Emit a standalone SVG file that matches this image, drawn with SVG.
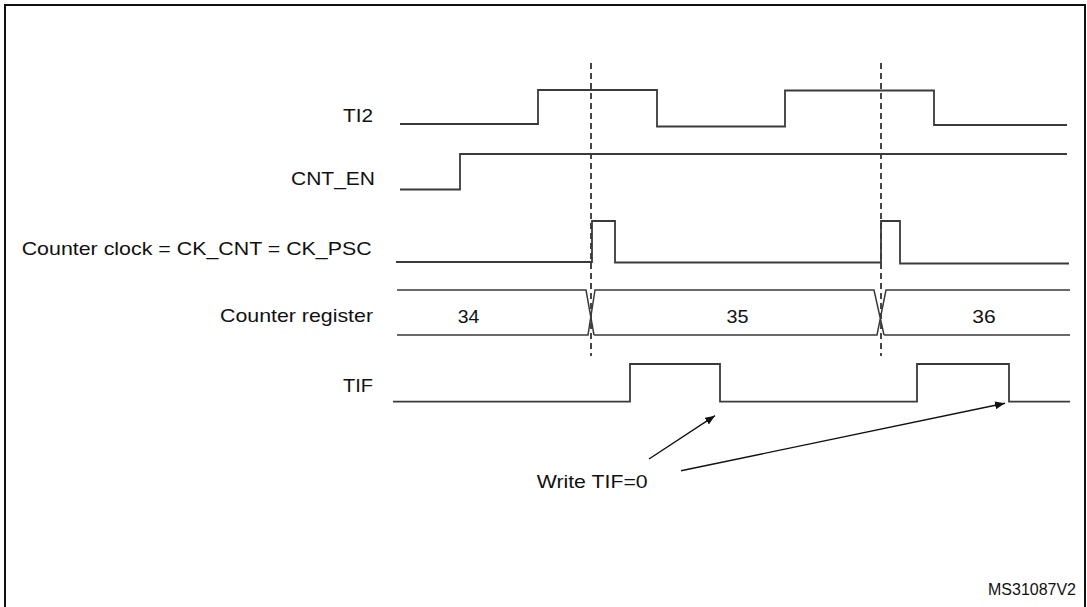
<svg xmlns="http://www.w3.org/2000/svg" width="1087" height="607" viewBox="0 0 1087 607">
<style>
.lbl{font-family:"Liberation Sans",Arial,sans-serif;font-size:18.6px;fill:#111}
.ms{font-family:"Liberation Sans",Arial,sans-serif;font-size:16px;fill:#111}
.wave{fill:none;stroke:#3a3a3a;stroke-width:1.8;stroke-linejoin:miter}
.bus{fill:none;stroke:#3a3a3a;stroke-width:1.5}
.dash{fill:none;stroke:#333;stroke-width:1.8;stroke-dasharray:6,4}
.arr{fill:none;stroke:#111;stroke-width:1.4}
</style>
<defs>
<marker id="ah" viewBox="0 0 10 8" refX="10" refY="4" markerWidth="10" markerHeight="8" markerUnits="userSpaceOnUse" orient="auto">
<path d="M0,0 L10,4 L0,8 Z" fill="#111"/>
</marker>
</defs>
<rect x="0" y="0" width="1087" height="607" fill="#fff"/>
<rect id="frame" x="5" y="5" width="1080" height="640" fill="none" stroke="#111" stroke-width="2"/>

<g id="guides">
<line class="dash" x1="591" y1="63" x2="591" y2="356"/>
<line class="dash" x1="881" y1="63" x2="881" y2="356"/>
</g>

<g id="ti2">
<text class="lbl" x="343" y="121.7" textLength="30" lengthAdjust="spacingAndGlyphs">TI2</text>
<path class="wave" d="M400,124 H538 V90 H657 V126.5 H785 V90.5 H934 V125 H1067"/>
</g>

<g id="cnt_en">
<text class="lbl" x="291" y="185" textLength="84" lengthAdjust="spacingAndGlyphs">CNT_EN</text>
<path class="wave" d="M400,189.5 H460 V154 H1067"/>
</g>

<g id="counter_clock">
<text class="lbl" x="21.7" y="255" textLength="350" lengthAdjust="spacingAndGlyphs">Counter clock = CK_CNT = CK_PSC</text>
<path class="wave" d="M396,262 H592 V221 H615 V262.5 H881 V221 H900 V263.5 H1069"/>
</g>

<g id="counter_register">
<text class="lbl" x="220" y="321.7" textLength="153" lengthAdjust="spacingAndGlyphs">Counter register</text>
<path class="bus" d="M397,290 H586 L594,335 M397,335 H588 L595,290 H874 L884,335 M594,335 H877 L886,290 H1070 M884,335 H1070"/>
<text class="lbl" x="457.7" y="323.3" textLength="21.6" lengthAdjust="spacingAndGlyphs">34</text>
<text class="lbl" x="726.5" y="323.3" textLength="22" lengthAdjust="spacingAndGlyphs">35</text>
<text class="lbl" x="972.3" y="323.3" textLength="23.4" lengthAdjust="spacingAndGlyphs">36</text>
</g>

<g id="tif">
<text class="lbl" x="343" y="391.7" textLength="30" lengthAdjust="spacingAndGlyphs">TIF</text>
<path class="wave" d="M393,401.7 H630 V364 H720 V401.7 H917 V364 H1009 V401.7 H1070"/>
</g>

<g id="note">
<text class="lbl" x="536.7" y="488.3" textLength="111" lengthAdjust="spacingAndGlyphs">Write TIF=0</text>
</g>

<g id="connectors">
<line class="arr" x1="649" y1="459" x2="715" y2="415.7" marker-end="url(#ah)"/>
<line class="arr" x1="681" y1="470.7" x2="1005" y2="403.3" marker-end="url(#ah)"/>
</g>

<text class="ms" x="988" y="595" textLength="88" lengthAdjust="spacingAndGlyphs">MS31087V2</text>
</svg>
